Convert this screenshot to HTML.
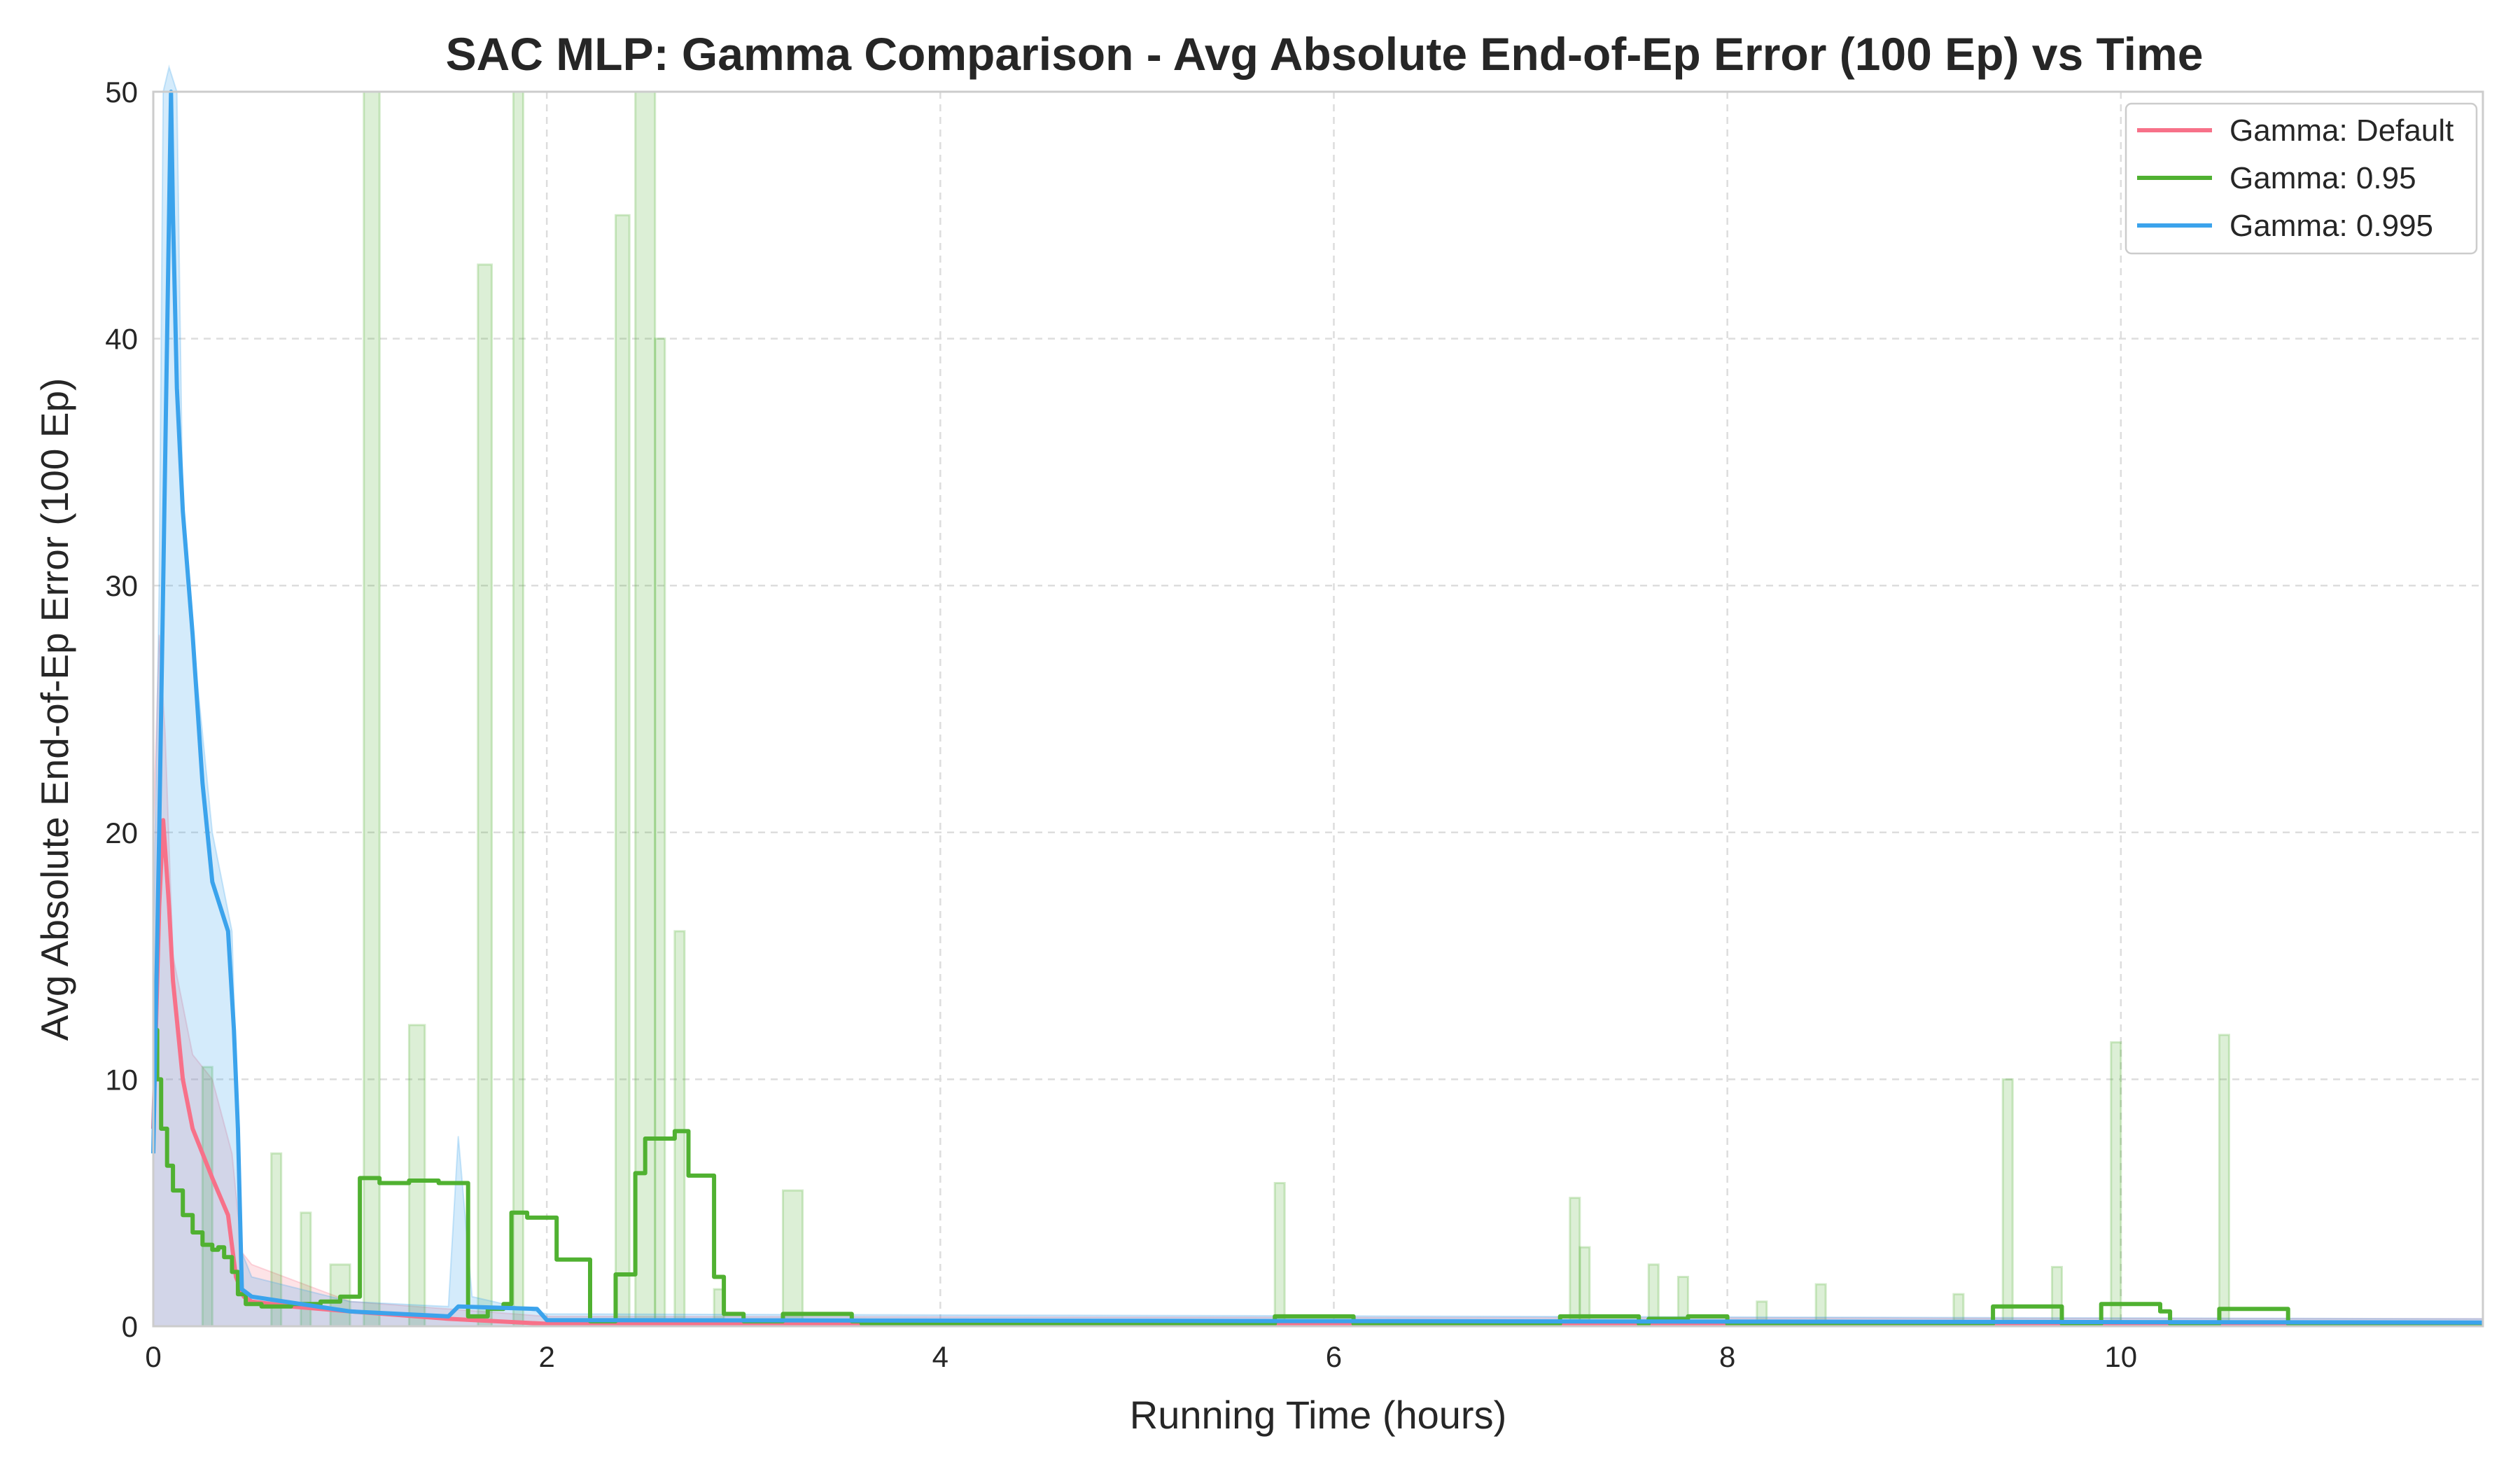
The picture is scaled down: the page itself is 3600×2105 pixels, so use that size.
<!DOCTYPE html>
<html><head><meta charset="utf-8"><style>
html,body{margin:0;padding:0;background:#fff;}
svg text{font-family:"Liberation Sans",sans-serif;fill:#262626;}
</style></head><body>
<svg id="chart" width="3600" height="2100" viewBox="0 0 3600 2100" xmlns="http://www.w3.org/2000/svg">
<rect x="0" y="0" width="3600" height="2100" fill="#fff"/>
<text x="1892" y="100" font-size="66" font-weight="bold" text-anchor="middle">SAC MLP: Gamma Comparison - Avg Absolute End-of-Ep Error (100 Ep) vs Time</text>
<g id="grid"></g>
<g id="bands"></g>
<g id="lines"></g>
<rect x="219" y="131" width="3328" height="1763" fill="none" stroke="#cccccc" stroke-width="3"/>
<g id="ticks"></g>
<text x="1883" y="2040" font-size="56" text-anchor="middle">Running Time (hours)</text>
<text transform="translate(97,1013) rotate(-90)" font-size="55" text-anchor="middle">Avg Absolute End-of-Ep Error (100 Ep)</text>
<g>
<rect x="3037" y="148" width="501" height="214" rx="8" fill="#fff" fill-opacity="0.85" stroke="#cccccc" stroke-width="2.5"/>
<line x1="3053" y1="186" x2="3160" y2="186" stroke="#f77189" stroke-width="6"/>
<text x="3185" y="201" font-size="44">Gamma: Default</text>
<line x1="3053" y1="254" x2="3160" y2="254" stroke="#50b131" stroke-width="6"/>
<text x="3185" y="269" font-size="44">Gamma: 0.95</text>
<line x1="3053" y1="322" x2="3160" y2="322" stroke="#3ba3ec" stroke-width="6"/>
<text x="3185" y="337" font-size="44">Gamma: 0.995</text>
</g>
</svg>
<script>
const xTicks=[0,2,4,6,8,10];
const yTicks=[0,10,20,30,40,50];
const redT=[0,0.03,0.05,0.08,0.1,0.15,0.2,0.3,0.38,0.42,0.46,0.5,0.7,1.0,1.5,2.0,11.84];
const redV=[8,17,20.5,17,14,10,8,6,4.5,2,1.2,1.0,0.8,0.6,0.3,0.1,0.1];
const blueT=[0,0.03,0.05,0.07,0.09,0.1,0.12,0.15,0.2,0.25,0.3,0.38,0.41,0.43,0.45,0.5,1.0,1.5,1.55,1.95,2.0,11.84];
const blueV=[7,20,30,40,50,45,38,33,28,22,18,16,12,8,1.5,1.2,0.6,0.4,0.8,0.7,0.25,0.15];
const greenT=[0,0.02,0.04,0.07,0.1,0.15,0.2,0.25,0.3,0.33,0.36,0.4,0.43,0.47,0.55,0.7,0.85,0.95,1.05,1.15,1.3,1.45,1.6,1.7,1.78,1.82,1.9,2.05,2.22,2.35,2.45,2.5,2.65,2.72,2.85,2.9,3.0,3.2,3.55,3.6,5.7,6.1,7.15,7.55,7.6,7.8,8.0,9.35,9.55,9.7,9.9,10.2,10.25,10.5,10.85,11.84];
const greenV=[12,10,8,6.5,5.5,4.5,3.8,3.3,3.1,3.2,2.8,2.2,1.3,0.9,0.8,0.9,1.0,1.2,6.0,5.8,5.9,5.8,0.4,0.7,0.9,4.6,4.4,2.7,0.2,2.1,6.2,7.6,7.9,6.1,2,0.5,0.2,0.5,0.2,0.1,0.4,0.1,0.4,0.1,0.3,0.4,0.1,0.8,0.8,0.1,0.9,0.6,0.1,0.7,0.1,0.1];
const greenSpikeStart=[0.25,0.6,0.75,0.9,1.07,1.3,1.65,1.83,2.35,2.45,2.55,2.65,2.85,3.2,5.7,7.2,7.25,7.6,7.75,8.15,8.45,9.15,9.4,9.65,9.95,10.5];
const greenSpikeEnd=[0.3,0.65,0.8,1.0,1.15,1.38,1.72,1.88,2.42,2.55,2.6,2.7,2.9,3.3,5.75,7.25,7.3,7.65,7.8,8.2,8.5,9.2,9.45,9.7,10.0,10.55];
const greenSpikeV=[10.5,7,4.6,2.5,50,12.2,43,50,45,50,40,16,1.5,5.5,5.8,5.2,3.2,2.5,2,1,1.7,1.3,10,2.4,11.5,11.8];
const blueBandT=[0,0.03,0.05,0.08,0.12,0.15,0.2,0.25,0.3,0.35,0.4,0.43,0.45,0.5,1.0,1.5,1.55,1.62,2.0,11.84];
const blueBandV=[15,30,50,55,50,33,28,24,20,18,16,8,3,2,1,0.8,7.7,1.2,0.5,0.3];
const redBandT=[0,0.03,0.06,0.1,0.2,0.3,0.4,0.45,0.5,1.0,2.0,11.84];
const redBandV=[20,28,24,15,11,10,7,3,2.5,1.0,0.4,0.3];

const X0=219,X1=3547,Y0=1894,Y1=131,XMAX=11.84,YMAX=50;
const sx=t=>X0+(t/XMAX)*(X1-X0);
const sy=v=>Y0-(Math.min(v,YMAX+1)/YMAX)*(Y0-Y1);
const NS="http://www.w3.org/2000/svg";
function mk(tag,attrs,parent){const e=document.createElementNS(NS,tag);for(const k in attrs)e.setAttribute(k,attrs[k]);parent.appendChild(e);return e;}
const grid=document.getElementById('grid'),ticks=document.getElementById('ticks');
xTicks.forEach(t=>{
 const l=mk('line',{x1:sx(t),x2:sx(t),y1:Y1,y2:Y0,stroke:'#dddddd','stroke-width':2.5,'stroke-dasharray':'10,8'},grid);
 
 
 const tx=mk('text',{x:sx(t),y:Y0+58,'font-size':42,'text-anchor':'middle'},ticks);tx.textContent=t;
 
 
});
yTicks.forEach(v=>{
 const l=mk('line',{x1:X0,x2:X1,y1:sy(v),y2:sy(v),stroke:'#dddddd','stroke-width':2.5,'stroke-dasharray':'10,8'},grid);
 
 
 const tx=mk('text',{x:X0-22,y:sy(v)+15,'font-size':42,'text-anchor':'end'},ticks);tx.textContent=v;
 
 
});
function linePath(T,V){let d='';for(let i=0;i<T.length;i++)d+=(i?'L':'M')+sx(T[i]).toFixed(1)+','+sy(V[i]).toFixed(1);return d;}
function stepPath(T,V){let d='M'+sx(T[0]).toFixed(1)+','+sy(V[0]).toFixed(1);for(let i=1;i<T.length;i++){d+='H'+sx(T[i]).toFixed(1)+'V'+sy(V[i]).toFixed(1);}return d;}
function areaPath(T,V,step){return (step?stepPath(T,V):linePath(T,V))+'L'+sx(T[T.length-1])+','+Y0+'L'+sx(T[0])+','+Y0+'Z';}
const bands=document.getElementById('bands'),lines=document.getElementById('lines');
let b=mk('path',{d:areaPath(redBandT,redBandV,false),fill:'#f77189','fill-opacity':0.2,stroke:'#f77189','stroke-opacity':0.25,'stroke-width':2},bands);


greenSpikeV.forEach((v,i)=>{
 const r=mk('rect',{x:sx(greenSpikeStart[i]),y:sy(v),width:sx(greenSpikeEnd[i])-sx(greenSpikeStart[i]),height:Y0-sy(v),fill:'#50b131','fill-opacity':0.2,stroke:'#50b131','stroke-opacity':0.25,'stroke-width':3},bands);
 
 
});
b=mk('path',{d:areaPath(blueBandT,blueBandV,false),fill:'#3ba3ec','fill-opacity':0.22,stroke:'#3ba3ec','stroke-opacity':0.25,'stroke-width':2},bands);


let p=mk('path',{d:linePath(redT,redV),fill:'none',stroke:'#f77189','stroke-width':6,'stroke-linejoin':'round'},lines);


p=mk('path',{d:stepPath(greenT,greenV),fill:'none',stroke:'#50b131','stroke-width':6,'stroke-linejoin':'round'},lines);


p=mk('path',{d:linePath(blueT,blueV),fill:'none',stroke:'#3ba3ec','stroke-width':6,'stroke-linejoin':'round'},lines);


</script>
</body></html>
